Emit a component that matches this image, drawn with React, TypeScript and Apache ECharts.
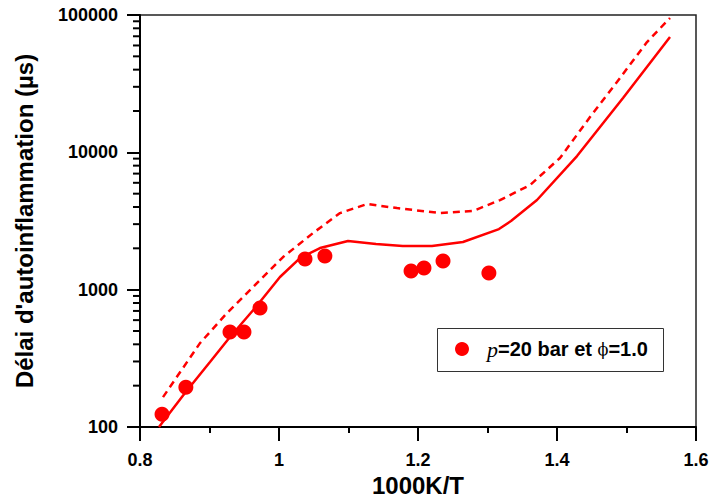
import React, { useEffect, useRef } from "react";
import * as echarts from "echarts";

const expX = [0.8317, 0.866, 0.9295, 0.9496, 0.9727, 1.0374, 1.066, 1.19, 1.2086, 1.236, 1.302];
const expY = [124, 195, 491, 491, 734, 1671, 1757, 1366, 1436, 1614, 1321];

const solidX = [0.8273, 0.8647, 0.9007, 0.9295, 0.9655, 1.0014, 1.0302, 1.059, 1.0993, 1.1396, 1.178, 1.2201, 1.2647, 1.3165, 1.3338, 1.3712, 1.4288, 1.495, 1.5626];
const solidY = [100, 177, 297, 452, 735, 1236, 1699, 2010, 2259, 2148, 2078, 2078, 2222, 2762, 3160, 4497, 9397, 24860, 69150];

const dashX = [0.8331, 0.8863, 0.9252, 0.9626, 1.0058, 1.0489, 1.0878, 1.1266, 1.1698, 1.2317, 1.2791, 1.318, 1.3612, 1.4043, 1.4475, 1.4863, 1.5295, 1.5626];
const dashY = [165, 408, 676, 1044, 1727, 2583, 3611, 4203, 3928, 3611, 3737, 4494, 5778, 9090, 18070, 32500, 63560, 95100];

const X_MIN = 0.8;
const X_MAX = 1.6;
const X_INTERVAL = 0.2;
const Y_MIN = 100;
const Y_MAX = 100000;
const yMinorTicks = [200, 300, 400, 500, 600, 700, 800, 900, 2000, 3000, 4000, 5000, 6000, 7000, 8000, 9000, 20000, 30000, 40000, 50000, 60000, 70000, 80000, 90000];

const xName = "1000K/T";
const yName = "Délai d'autoinflammation (µs)";
const legendLabel = "{it|p}=20 bar et {ph|ϕ}=1.0";

const FONT = 'Arial, "Liberation Sans", sans-serif';
const RED = "#ff0000";

export default function App() {
  const ref = useRef<HTMLDivElement>(null);
  useEffect(() => {
    if (!ref.current) return;
    const chart = echarts.init(ref.current, null, { renderer: "svg" });
    const zip = (xs: number[], ys: number[]) => xs.map((x, i) => [x, ys[i]]);
    chart.setOption({
      animation: false,
      backgroundColor: "#ffffff",
      grid: {
        left: 140,
        right: 16,
        top: 15,
        bottom: 68,
        outerBoundsMode: "none",
        containLabel: false,
        show: true,
        borderColor: "#222",
        borderWidth: 1.5,
        backgroundColor: "transparent",
      },
      legend: {
        data: ["exp"],
        left: 455,
        top: 338,
        padding: 0,
        icon: "circle",
        itemWidth: 14,
        itemHeight: 14,
        formatter: () => legendLabel,
        textStyle: {
          fontFamily: FONT,
          fontWeight: "bold",
          fontSize: 20,
          color: "#000",
          padding: [0, 0, 0, 13],
          lineHeight: 22,
          rich: {
            it: { fontFamily: '"Liberation Serif", serif', fontStyle: "italic", fontWeight: "normal", fontSize: 22, color: "#000" },
            ph: { fontFamily: '"DejaVu Serif", "Liberation Serif", serif', fontWeight: "normal", fontSize: 16, color: "#000" },
          },
        },
      },
      graphic: [
        {
          type: "rect",
          left: 435,
          top: 326,
          shape: { width: 226, height: 43 },
          style: { fill: "none", stroke: "#333", lineWidth: 1 },
          z: -1,
        },
      ],
      xAxis: {
        type: "value",
        min: X_MIN,
        max: X_MAX,
        interval: X_INTERVAL,
        name: xName,
        nameLocation: "middle",
        nameGap: 52,
        nameTextStyle: { fontFamily: FONT, fontWeight: "bold", fontSize: 24, color: "#000", verticalAlign: "middle" },
        axisLine: { show: true, lineStyle: { color: "#000", width: 2 } },
        axisTick: { show: true, inside: false, length: 14, lineStyle: { color: "#000", width: 2 } },
        minorTick: { show: true, splitNumber: 2, length: 6, lineStyle: { color: "#000", width: 2 } },
        axisLabel: {
          margin: 24,
          fontFamily: FONT,
          fontWeight: "bold",
          fontSize: 18,
          color: "#000",
          formatter: (v: number) => String(Math.round(v * 10) / 10),
        },
        splitLine: { show: false },
      },
      yAxis: {
        type: "log",
        logBase: 10,
        min: Y_MIN,
        max: Y_MAX,
        name: yName,
        nameLocation: "middle",
        nameRotate: 90,
        nameGap: 104,
        nameTextStyle: { fontFamily: FONT, fontWeight: "bold", fontSize: 24, color: "#000" },
        axisLine: { show: true, lineStyle: { color: "#000", width: 2 } },
        axisTick: { show: true, inside: false, length: 13, lineStyle: { color: "#000", width: 2 } },
        axisLabel: {
          margin: 22,
          fontFamily: FONT,
          fontWeight: "bold",
          fontSize: 18,
          color: "#000",
          formatter: (v: number) => String(Math.round(v)),
        },
        splitLine: { show: false },
      },
      series: [
        {
          name: "model",
          type: "line",
          data: zip(solidX, solidY),
          showSymbol: false,
          symbol: "none",
          lineStyle: { color: RED, width: 2.5 },
          z: 3,
        },
        {
          name: "model2",
          type: "line",
          data: zip(dashX, dashY),
          showSymbol: false,
          symbol: "none",
          lineStyle: { color: RED, width: 2.5, type: [7, 5] },
          z: 3,
        },
        {
          name: "exp",
          type: "scatter",
          data: zip(expX, expY),
          symbol: "circle",
          symbolSize: 15,
          itemStyle: { color: RED, opacity: 1 },
          z: 4,
        },
        {
          name: "yMinor",
          type: "custom",
          silent: true,
          clip: false,
          data: yMinorTicks.map((v) => [X_MIN, v]),
          renderItem: (params: any, api: any) => {
            const p = api.coord([api.value(0), api.value(1)]);
            return {
              type: "line",
              shape: { x1: p[0] - 7, y1: p[1], x2: p[0], y2: p[1] },
              style: { stroke: "#000", lineWidth: 2 },
            };
          },
          z: 5,
        },
      ],
    });
    return () => chart.dispose();
  }, []);
  return <div ref={ref} style={{ position: "fixed", left: 0, top: 0, width: 712, height: 495 }} />;
}
